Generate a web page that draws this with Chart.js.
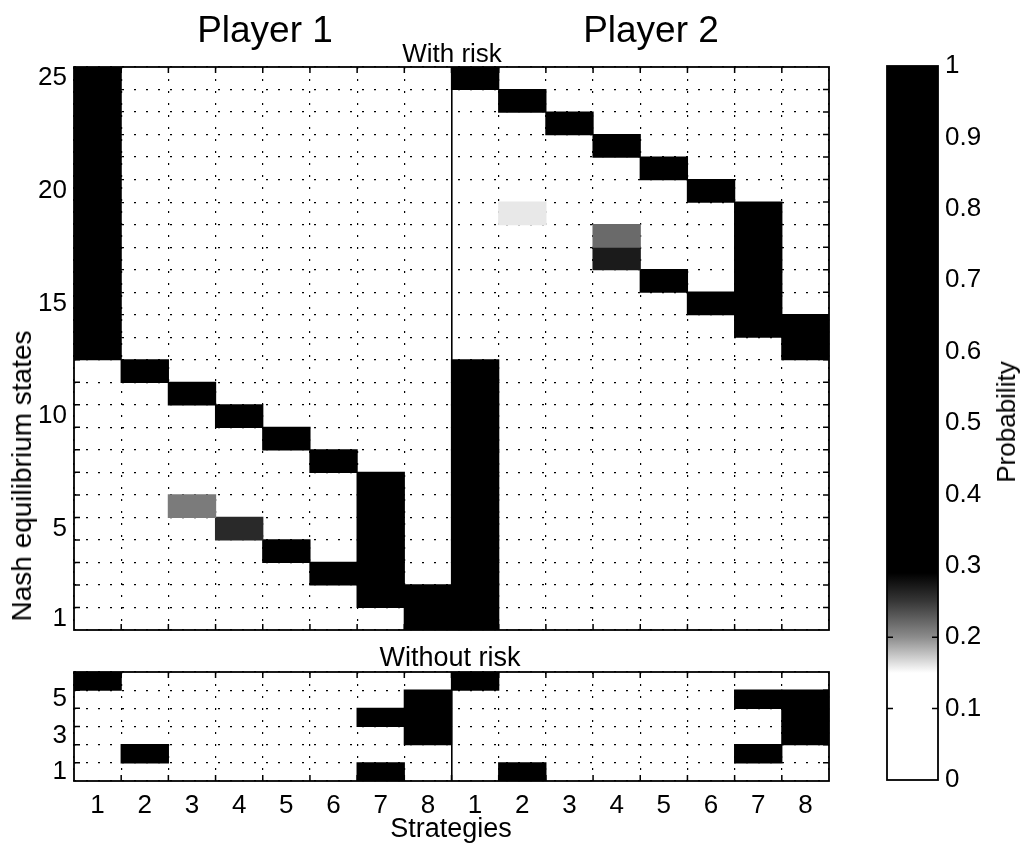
<!DOCTYPE html>
<html>
<head>
<meta charset="UTF-8">
<title>Nash equilibrium states</title>
<script src="https://cdn.jsdelivr.net/npm/chart.js@4"></script>
<style>
  body { margin: 0; background: #fff; width: 1022px; height: 847px; position: relative; overflow: hidden;
         font-family: 'Liberation Sans', Arial, sans-serif; color: #000; }
  canvas { position: absolute; }
  .lbl { position: absolute; line-height: 1; white-space: nowrap; transform: translateX(-50%); z-index: 2; }
  .rot { position: absolute; line-height: 1; white-space: nowrap; transform: translate(-50%, -50%) rotate(-90deg); z-index: 2; }
</style>
</head>
<body>

<div class="lbl" style="left:265px; top:11px; font-size:37px;">Player 1</div>
<div class="lbl" style="left:651px; top:11px; font-size:37px;">Player 2</div>
<div class="lbl" style="left:452px; top:40px; font-size:26px;">With risk</div>
<div class="lbl" style="left:450px; top:644px; font-size:27px;">Without risk</div>
<div class="lbl" style="left:451px; top:815px; font-size:27px;">Strategies</div>
<div class="rot" style="left:22px; top:476px; font-size:28px;">Nash equilibrium states</div>
<div class="rot" style="left:1006px; top:422px; font-size:26px;">Probability</div>

<canvas id="riskChart" width="860" height="620" style="left:0; top:40px;"></canvas>
<canvas id="noRiskChart" width="860" height="202" style="left:0; top:645px;"></canvas>
<canvas id="barChart" width="162" height="790" style="left:860px; top:26px;"></canvas>

<script>
// strategies per player (columns), player 1 then player 2
const strategies = ['1', '2', '3', '4', '5', '6', '7', '8'];

// With risk: rows are Nash equilibrium states 25 (top) down to 1 (bottom)
const riskP1 = [
  [1, 0, 0, 0, 0, 0, 0, 0], // 25
  [1, 0, 0, 0, 0, 0, 0, 0], // 24
  [1, 0, 0, 0, 0, 0, 0, 0], // 23
  [1, 0, 0, 0, 0, 0, 0, 0], // 22
  [1, 0, 0, 0, 0, 0, 0, 0], // 21
  [1, 0, 0, 0, 0, 0, 0, 0], // 20
  [1, 0, 0, 0, 0, 0, 0, 0], // 19
  [1, 0, 0, 0, 0, 0, 0, 0], // 18
  [1, 0, 0, 0, 0, 0, 0, 0], // 17
  [1, 0, 0, 0, 0, 0, 0, 0], // 16
  [1, 0, 0, 0, 0, 0, 0, 0], // 15
  [1, 0, 0, 0, 0, 0, 0, 0], // 14
  [1, 0, 0, 0, 0, 0, 0, 0], // 13
  [0, 1, 0, 0, 0, 0, 0, 0], // 12
  [0, 0, 1, 0, 0, 0, 0, 0], // 11
  [0, 0, 0, 1, 0, 0, 0, 0], // 10
  [0, 0, 0, 0, 1, 0, 0, 0], // 9
  [0, 0, 0, 0, 0, 1, 0, 0], // 8
  [0, 0, 0, 0, 0, 0, 1, 0], // 7
  [0, 0, 0.21, 0, 0, 0, 1, 0], // 6
  [0, 0, 0, 0.26, 0, 0, 1, 0], // 5
  [0, 0, 0, 0, 1, 0, 1, 0], // 4
  [0, 0, 0, 0, 0, 1, 1, 0], // 3
  [0, 0, 0, 0, 0, 0, 1, 1], // 2
  [0, 0, 0, 0, 0, 0, 0, 1]  // 1
];
const riskP2 = [
  [1, 0, 0, 0, 0, 0, 0, 0], // 25
  [0, 1, 0, 0, 0, 0, 0, 0], // 24
  [0, 0, 1, 0, 0, 0, 0, 0], // 23
  [0, 0, 0, 1, 0, 0, 0, 0], // 22
  [0, 0, 0, 0, 1, 0, 0, 0], // 21
  [0, 0, 0, 0, 0, 1, 0, 0], // 20
  [0, 0.16, 0, 0, 0, 0, 1, 0], // 19
  [0, 0, 0, 0.22, 0, 0, 1, 0], // 18
  [0, 0, 0, 0.27, 0, 0, 1, 0], // 17
  [0, 0, 0, 0, 1, 0, 1, 0], // 16
  [0, 0, 0, 0, 0, 1, 1, 0], // 15
  [0, 0, 0, 0, 0, 0, 1, 1], // 14
  [0, 0, 0, 0, 0, 0, 0, 1], // 13
  [1, 0, 0, 0, 0, 0, 0, 0], // 12
  [1, 0, 0, 0, 0, 0, 0, 0], // 11
  [1, 0, 0, 0, 0, 0, 0, 0], // 10
  [1, 0, 0, 0, 0, 0, 0, 0], // 9
  [1, 0, 0, 0, 0, 0, 0, 0], // 8
  [1, 0, 0, 0, 0, 0, 0, 0], // 7
  [1, 0, 0, 0, 0, 0, 0, 0], // 6
  [1, 0, 0, 0, 0, 0, 0, 0], // 5
  [1, 0, 0, 0, 0, 0, 0, 0], // 4
  [1, 0, 0, 0, 0, 0, 0, 0], // 3
  [1, 0, 0, 0, 0, 0, 0, 0], // 2
  [1, 0, 0, 0, 0, 0, 0, 0]  // 1
];

// Without risk: states 6 (top) down to 1
const noRiskP1 = [
  [1, 0, 0, 0, 0, 0, 0, 0], // 6
  [0, 0, 0, 0, 0, 0, 0, 1], // 5
  [0, 0, 0, 0, 0, 0, 1, 1], // 4
  [0, 0, 0, 0, 0, 0, 0, 1], // 3
  [0, 1, 0, 0, 0, 0, 0, 0], // 2
  [0, 0, 0, 0, 0, 0, 1, 0]  // 1
];
const noRiskP2 = [
  [1, 0, 0, 0, 0, 0, 0, 0], // 6
  [0, 0, 0, 0, 0, 0, 1, 1], // 5
  [0, 0, 0, 0, 0, 0, 0, 1], // 4
  [0, 0, 0, 0, 0, 0, 0, 1], // 3
  [0, 0, 0, 0, 0, 0, 1, 0], // 2
  [0, 1, 0, 0, 0, 0, 0, 0]  // 1
];

const riskYTicks = [1, 5, 10, 15, 20, 25];
const noRiskYTicks = [1, 3, 5];
const barTickLabels = ['0', '0.1', '0.2', '0.3', '0.4', '0.5', '0.6', '0.7', '0.8', '0.9', '1'];

// scanned grey colormap: white up to ~0.15, black from ~0.3
const cmapStops = [[0, 255], [0.15, 255], [0.2, 140], [0.25, 55], [0.29, 0], [1, 0]];
function shade(v) {
  for (let i = 1; i < cmapStops.length; i++) {
    const [v0, g0] = cmapStops[i - 1], [v1, g1] = cmapStops[i];
    if (v <= v1) {
      const g = Math.round(g0 + (g1 - g0) * (v - v0) / (v1 - v0));
      return `rgb(${g},${g},${g})`;
    }
  }
  return '#000';
}

Chart.defaults.font.family = "'Liberation Sans', Arial, sans-serif";
Chart.defaults.font.size = 26;
Chart.defaults.color = '#000';

function drawFrame(chart, xs, ys) {
  const { ctx, chartArea: a } = chart;
  const len = 6;
  ctx.save();
  ctx.strokeStyle = '#000';
  ctx.lineWidth = 1.5;
  ctx.beginPath();
  xs.forEach(px => {
    ctx.moveTo(px, a.top); ctx.lineTo(px, a.top + len);
    ctx.moveTo(px, a.bottom); ctx.lineTo(px, a.bottom - len);
  });
  ys.forEach(py => {
    ctx.moveTo(a.left, py); ctx.lineTo(a.left + len, py);
    ctx.moveTo(a.right, py); ctx.lineTo(a.right - len, py);
  });
  ctx.stroke();
  ctx.lineWidth = 1.8;
  ctx.strokeRect(a.left, a.top, a.right - a.left, a.bottom - a.top);
  ctx.restore();
}

const heatFrame = {
  id: 'heatFrame',
  afterDatasetsDraw(chart) {
    const x = chart.scales.x, y = chart.scales.y;
    const xs = [], ys = [];
    for (let i = 1; i < 16; i++) xs.push(x.getPixelForValue(i - 0.5));
    for (let r = 1; r < y.max - 0.5; r++) ys.push(y.getPixelForValue(r + 0.5));
    drawFrame(chart, xs, ys);
  }
};

function rowsToDatasets(p1, p2) {
  const n = p1.length;
  return p1.map((r1, i) => {
    const state = n - i;
    const vals = r1.concat(p2[i]);
    return {
      data: vals.map(v => v > 0 ? [state - 0.5, state + 0.5] : null),
      backgroundColor: vals.map(shade),
      borderWidth: 0,
      grouped: false,
      barPercentage: 1,
      categoryPercentage: 1,
      inflateAmount: 0.6
    };
  });
}

function heatChart(id, p1, p2, yTicks, showX, padding) {
  const nRows = p1.length;
  return new Chart(document.getElementById(id), {
    type: 'bar',
    data: { labels: strategies.concat(strategies), datasets: rowsToDatasets(p1, p2) },
    plugins: [heatFrame],
    options: {
      responsive: false,
      animation: false,
      layout: { padding },
      plugins: { legend: { display: false }, tooltip: { enabled: false } },
      scales: {
        x: {
          type: 'category',
          offset: true,
          grid: { offset: true, color: '#000', lineWidth: c => c.index === 8 ? 1.6 : 1.2, drawTicks: false },
          border: { display: false, dash: c => c.index === 8 ? [] : [2, 10] },
          ticks: { display: showX, padding: 9, autoSkip: false, maxRotation: 0 },
          afterFit: s => { s.height = showX ? 40 : 0; }
        },
        y: {
          type: 'linear',
          min: 0.5,
          max: nRows + 0.5,
          grid: {
            color: c => c.tick && Number.isInteger(c.tick.value) ? 'rgba(0,0,0,0)' : '#000',
            lineWidth: 1.2,
            drawTicks: false
          },
          border: { display: false, dash: [2, 10] },
          ticks: {
            stepSize: 0.5,
            autoSkip: false,
            padding: 7,
            callback: v => yTicks.includes(v) ? String(v) : ''
          },
          afterFit: s => { s.width = 74; }
        }
      }
    }
  });
}

heatChart('riskChart', riskP1, riskP2, riskYTicks, false, { top: 27, right: 31, bottom: 30, left: 0 });
heatChart('noRiskChart', noRiskP1, noRiskP2, noRiskYTicks, true, { top: 27, right: 31, bottom: 26, left: 0 });

// colour bar
new Chart(document.getElementById('barChart'), {
  type: 'bar',
  data: {
    labels: [''],
    datasets: [{
      data: [[0, 1]],
      borderWidth: 0,
      barPercentage: 1,
      categoryPercentage: 1,
      backgroundColor: c => {
        const ch = c.chart;
        if (!ch.chartArea) return '#000';
        const y = ch.scales.y;
        const g = ch.ctx.createLinearGradient(0, y.getPixelForValue(0), 0, y.getPixelForValue(1));
        cmapStops.forEach(([v]) => g.addColorStop(v, shade(v)));
        return g;
      }
    }]
  },
  plugins: [{
    id: 'barFrame',
    afterDatasetsDraw(chart) {
      const y = chart.scales.y;
      const ys = y.ticks.slice(1, -1).map(t => y.getPixelForValue(t.value));
      drawFrame(chart, [], ys);
    }
  }],
  options: {
    responsive: false,
    animation: false,
    layout: { padding: { top: 40, right: 0, bottom: 36, left: 27 } },
    plugins: { legend: { display: false }, tooltip: { enabled: false } },
    scales: {
      x: { display: false },
      y: {
        position: 'right',
        min: 0,
        max: 1,
        grid: { display: false, drawTicks: false },
        border: { display: false },
        ticks: { stepSize: 0.1, padding: 7, callback: (v, i) => barTickLabels[i] },
        afterFit: s => { s.width = 84; }
      }
    }
  }
});
</script>
</body>
</html>
